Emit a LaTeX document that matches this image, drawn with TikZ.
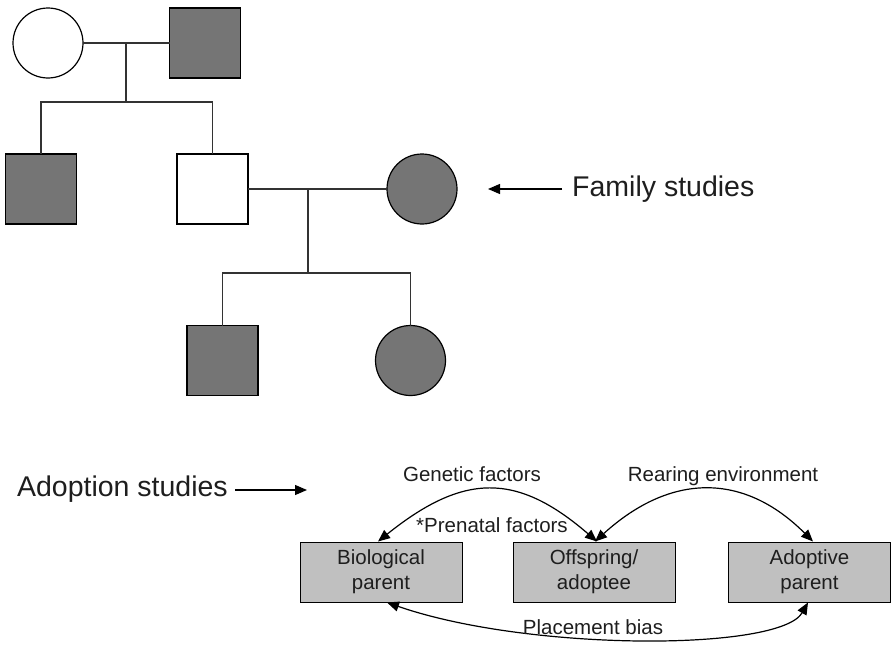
\documentclass[tikz,border=0pt]{standalone}
\usepackage{fontspec}
\setmainfont{Liberation Sans}
\usetikzlibrary{arrows.meta,calc}
\definecolor{affected}{HTML}{757575}
\definecolor{boxgray}{HTML}{C0C0C0}
\definecolor{linegray}{HTML}{333333}
\definecolor{ink}{HTML}{1E1E1E}
\begin{document}
\begin{tikzpicture}[x=1pt,y=-1pt,
  male/.style={rectangle, draw=black, line width=1.2pt, minimum width=71pt, minimum height=70pt, inner sep=0pt, outer sep=0pt},
  female/.style={circle, draw=black, line width=1.2pt, minimum size=70pt, inner sep=0pt, outer sep=0pt},
  aff/.style={fill=affected},
  unaff/.style={fill=white},
  kin/.style={draw=linegray, line width=1.3pt},
  study/.style={font=\fontsize{28.5}{34}\selectfont, text=ink, inner ysep=0pt},
  unit/.style={rectangle, draw=black, line width=1pt, fill=boxgray, minimum width=162pt, minimum height=60pt,
    inner sep=0pt, align=center, text=ink, font=\fontsize{20.5}{25}\selectfont},
  lbl/.style={font=\fontsize{20.5}{25}\selectfont, text=ink, inner sep=0pt, anchor=base},
  tip/.style={-{Triangle[length=12pt,width=10pt]}},
  both/.style={{Triangle[length=12pt,width=10pt]}-{Triangle[length=12pt,width=10pt]}},
  link/.style={draw=black, line width=1.2pt},
]
\useasboundingbox (0,0) rectangle (892,645);

% ---------- pedigree ----------
% generation I
\node[female, unaff] (c1) at (48,43) {};
\node[male, aff] (s1) at (205,43) {};
% generation II
\node[male, aff] (s2a) at (41,189) {};
\node[male, unaff] (s2b) at (212.5,189) {};
\node[female, aff] (c2) at (422,189) {};
% generation III
\node[male, aff] (s3) at (222.5,360.5) {};
\node[female, aff] (c3) at (410.5,360.5) {};

% mating and sibship lines
\coordinate (m1) at (126,43);
\coordinate (k1) at (126,102);
\draw[kin] (c1) -- (s1);
\draw[kin] (m1) -- (k1);
\draw[kin] (s2a.north) |- (k1) -| (s2b.north);

\coordinate (m2) at (308,189);
\coordinate (k2) at (308,273);
\draw[kin] (s2b) -- (c2);
\draw[kin] (m2) -- (k2);
\draw[kin] (s3.north) |- (k2) -| (c3.north);

% ---------- study labels ----------
\node[study, anchor=west, inner xsep=10pt] (fs) at (562,189) {Family studies};
\coordinate (fstip) at (488,189);
\draw[link, tip] (fs.west) -- (fstip);

\node[study, anchor=east, inner xsep=7pt] (ads) at (235,489) {Adoption studies};
\coordinate (adtip) at (307,490);
\draw[link, tip] (ads.east |- adtip) -- (adtip);

% ---------- adoption design ----------
\node[unit] (b1) at (381,572) {Biological\\parent};
\node[unit] (b2) at (594,572) {Offspring/\\adoptee};
\node[unit] (b3) at (809.5,572) {Adoptive\\parent};

\draw[link, both] ([xshift=-3pt]b1.north) .. controls +(86,-69) and +(-80,-69) .. ([xshift=3pt]b2.north);
\draw[link, both] ([xshift=1pt]b2.north) .. controls +(76,-69) and +(-69,-69) .. ([xshift=3.5pt]b3.north);
\draw[link, both] ([xshift=6pt]b1.south) .. controls +(141,49) and +(-28,49) .. ([xshift=-1.5pt]b3.south);

\node[lbl] (lg) at (472,481) {Genetic factors};
\node[lbl] (lr) at (723,481) {Rearing environment};
\node[lbl] (lp) at (492,532) {*Prenatal factors};
\node[lbl] (lb) at (593,634) {Placement bias};
\end{tikzpicture}
\end{document}
